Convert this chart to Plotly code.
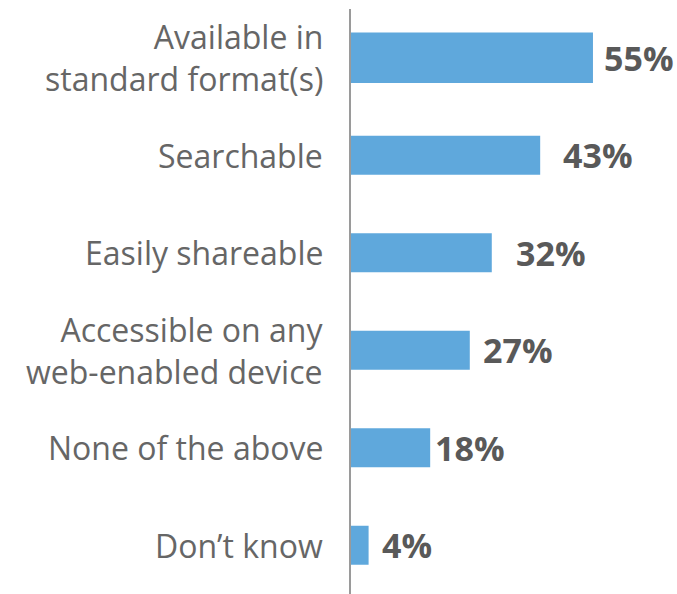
import plotly.graph_objects as go

# Survey answers and the share of respondents choosing each
categories = [
    "Available in<br>standard format(s)",
    "Searchable",
    "Easily shareable",
    "Accessible on any<br>web-enabled device",
    "None of the above",
    "Don\u2019t know",
]
values = [55, 43, 32, 27, 18, 4]

# Per-row bar thickness and value-label gap (pixels)
bar_widths = [0.52, 0.4, 0.4, 0.4, 0.4, 0.4]
label_gaps = [9, 21, 22, 11, 3, 11]

BAR_COLOR = "#5fa8dc"
LABEL_COLOR = "#666666"
VALUE_COLOR = "#595959"
FONT = "Open Sans"
LABEL_SIZE = 32

fig = go.Figure(
    go.Bar(
        x=values,
        y=categories,
        orientation="h",
        width=bar_widths,
        marker=dict(color=BAR_COLOR, line=dict(width=0)),
        hoverinfo="skip",
    )
)

# Value labels just past the end of each bar
for cat, val, gap in zip(categories, values, label_gaps):
    fig.add_annotation(
        x=val,
        y=cat,
        text=f"<b>{val}%</b>",
        showarrow=False,
        xanchor="left",
        yanchor="middle",
        xshift=gap,
        font=dict(family=FONT, size=34, color=VALUE_COLOR),
    )

# Category labels, right-aligned to the left of the axis line
for cat in categories:
    fig.add_annotation(
        x=0,
        xref="paper",
        y=cat,
        text=cat,
        align="right",
        showarrow=False,
        xanchor="right",
        yanchor="middle",
        xshift=-26,
        font=dict(family=FONT, size=LABEL_SIZE, color=LABEL_COLOR),
    )

fig.update_layout(
    width=677,
    height=594,
    margin=dict(l=351, r=0, t=9, b=0),
    paper_bgcolor="white",
    plot_bgcolor="white",
    showlegend=False,
    font=dict(family=FONT, color=LABEL_COLOR),
)

fig.update_xaxes(
    range=[0, 74.1],
    visible=False,
    showgrid=False,
    zeroline=False,
)

fig.update_yaxes(
    autorange="reversed",
    showline=True,
    linecolor="#9a9a9a",
    linewidth=2,
    ticks="",
    showgrid=False,
    showticklabels=False,
)

fig.write_html("out.html")
